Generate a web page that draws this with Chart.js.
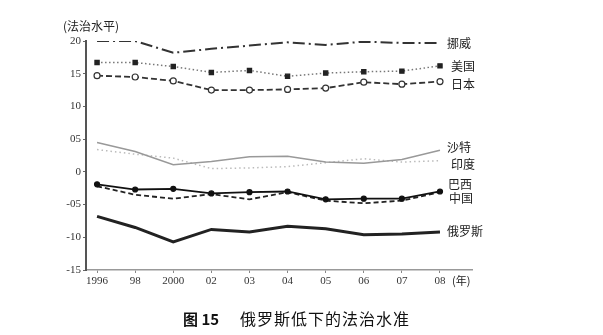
<!DOCTYPE html>
<html><head><meta charset="utf-8">
<script src="https://cdn.jsdelivr.net/npm/chart.js@4.4.1/dist/chart.umd.min.js"></script>
<style>html,body{margin:0;padding:0;background:#fff}canvas{display:block}</style>
</head><body>
<canvas id="c" width="603" height="335"></canvas>
<script>
const years = ['1996','98','2000','02','03','04','05','06','07','08'];
const yTickValues = [-1.5,-1.0,-0.5,0,0.5,1.0,1.5,2.0];
const yTickLabels = ['-15','-10','-05','0','05','10','15','20'];
const seriesNames = ['挪威','美国','日本','沙特','印度','巴西','中国','俄罗斯'];
const norway = [2.00,2.00,1.82,1.88,1.93,1.98,1.94,1.99,1.97,1.97];
const usa    = [1.67,1.67,1.61,1.52,1.55,1.46,1.51,1.53,1.54,1.62];
const japan  = [1.47,1.45,1.39,1.25,1.25,1.26,1.28,1.37,1.34,1.38];
const saudi  = [0.45,0.31,0.11,0.16,0.23,0.24,0.15,0.13,0.19,0.33];
const india  = [0.34,0.27,0.21,0.05,0.06,0.08,0.14,0.20,0.15,0.17];
const brazil = [-0.19,-0.27,-0.26,-0.33,-0.31,-0.30,-0.42,-0.41,-0.41,-0.30];
const china  = [-0.22,-0.35,-0.41,-0.34,-0.42,-0.31,-0.44,-0.48,-0.44,-0.31];
const russia = [-0.68,-0.85,-1.07,-0.88,-0.92,-0.83,-0.87,-0.96,-0.95,-0.92];
const yAxisTitle = '(法治水平)';
const xAxisUnit = '(年)';
const captionNum = '图 15';
const captionText = '俄罗斯低下的法治水准';

const allSeries = [norway, usa, japan, saudi, india, brazil, china, russia];
const styles = [
  {color:'#333', width:2, dash:[12,4,2,4], r:0},
  {color:'#777', width:1.5, dash:[1.5,2.5], r:3, ps:'rect', fill:'#222', pb:'#222'},
  {color:'#333', width:1.8, dash:[6,3], r:3, ps:'circle', fill:'#fff', pb:'#333'},
  {color:'#999', width:1.5, dash:[], r:0},
  {color:'#bbb', width:1.5, dash:[1.5,3], r:0},
  {color:'#111', width:1.8, dash:[], r:2.5, ps:'circle', fill:'#111', pb:'#111'},
  {color:'#222', width:1.8, dash:[5,3], r:0},
  {color:'#222', width:3, dash:[], r:0}
];
const labelDy = [0, 1, 3, -3, 4, -7, 6, -1];
const labelDx = [7, 11, 11, 7, 11, 8, 9, 7];

const datasets = allSeries.map((arr, k) => ({
  label: seriesNames[k],
  data: arr.map((v, i) => ({x: i, y: v})),
  borderColor: styles[k].color,
  borderWidth: styles[k].width,
  borderDash: styles[k].dash,
  pointRadius: styles[k].r,
  pointStyle: styles[k].ps || 'circle',
  pointBackgroundColor: styles[k].fill || styles[k].color,
  pointBorderColor: styles[k].pb || styles[k].color,
  pointBorderWidth: 1.2,
  tension: 0,
  fill: false
}));

const textPlugin = {
  id: 'texts',
  afterDraw(chart) {
    const ctx = chart.ctx;
    const xs = chart.scales.x, ys = chart.scales.y;
    ctx.save();
    ctx.fillStyle = '#222';
    ctx.textBaseline = 'middle';
    ctx.font = '12px "Noto Sans CJK SC"';
    ctx.textAlign = 'left';
    ctx.fillText(yAxisTitle, 63, 26);
    ctx.font = '11px "Noto Sans CJK SC"';
    ctx.fillText(xAxisUnit, 452, 281);
    ctx.font = '12px "Noto Sans CJK SC"';
    allSeries.forEach((arr, k) => {
      const last = arr.length - 1;
      const px = xs.getPixelForValue(last) + labelDx[k];
      const py = ys.getPixelForValue(arr[last]) + labelDy[k];
      ctx.fillText(seriesNames[k], px, py);
    });
    ctx.fillStyle = '#111';
    ctx.font = 'bold 15px "Noto Sans CJK SC"';
    ctx.fillText(captionNum, 183, 319);
    ctx.font = '16px "Noto Sans CJK SC"';
    try { ctx.letterSpacing = '1px'; } catch(e) {}
    ctx.fillText(captionText, 240, 319);
    ctx.restore();
  }
};

new Chart(document.getElementById('c'), {
  type: 'line',
  data: { datasets },
  plugins: [textPlugin],
  options: {
    responsive: false,
    animation: false,
    layout: { padding: { top: 41, right: 131, left: 0, bottom: 0 } },
    plugins: { legend: { display: false }, tooltip: { enabled: false } },
    scales: {
      x: {
        type: 'linear',
        min: -0.29, max: 9.84,
        afterBuildTicks: s => { s.ticks = years.map((_, i) => ({ value: i })); },
        afterFit: s => { s.height = 65; },
        ticks: {
          callback: (v, i) => years[i],
          autoSkip: false, maxRotation: 0, padding: 2,
          color: '#333',
          font: { family: '"Liberation Serif"', size: 11 }
        },
        grid: { display: true, drawOnChartArea: false, tickLength: 3, color: '#888' },
        border: { color: '#999', width: 1.5 }
      },
      y: {
        min: -1.5, max: 2.0,
        afterBuildTicks: s => { s.ticks = yTickValues.map(v => ({ value: v })); },
        afterFit: s => { s.width = 86; },
        ticks: {
          callback: (v, i) => yTickLabels[i],
          padding: 2,
          color: '#333',
          font: { family: '"Liberation Serif"', size: 11 }
        },
        grid: { display: true, drawOnChartArea: false, tickLength: 3, color: '#666' },
        border: { color: '#555', width: 2 }
      }
    }
  }
});
</script>
</body></html>
